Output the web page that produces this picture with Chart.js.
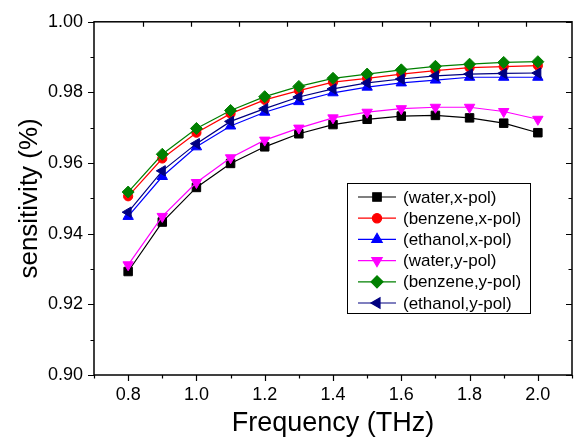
<!DOCTYPE html>
<html>
<head>
<meta charset="utf-8">
<script src="https://cdn.jsdelivr.net/npm/chart.js@4.4.0/dist/chart.umd.min.js"></script>
<style>
  html, body { margin: 0; padding: 0; background: #fff; }
  #wrap { width: 579px; height: 446px; }
</style>
</head>
<body>
<div id="wrap"><canvas id="sensChart" width="579" height="446"></canvas></div>
<script>
// データ
const freq = [0.8, 0.9, 1.0, 1.1, 1.2, 1.3, 1.4, 1.5, 1.6, 1.7, 1.8, 1.9, 2.0];
const waterX    = [0.9293, 0.9433, 0.9531, 0.9599, 0.9646, 0.9683, 0.9709, 0.9724, 0.9733, 0.9735, 0.9728, 0.9713, 0.9686];
const benzeneX  = [0.9506, 0.9613, 0.9686, 0.9740, 0.9779, 0.9805, 0.9829, 0.9840, 0.9852, 0.9862, 0.9870, 0.9873, 0.9876];
const ethanolX  = [0.9449, 0.9562, 0.9646, 0.9705, 0.9744, 0.9774, 0.9799, 0.9815, 0.9827, 0.9835, 0.9843, 0.9843, 0.9843];
const waterY    = [0.9312, 0.9449, 0.9545, 0.9615, 0.9665, 0.9699, 0.9728, 0.9744, 0.9754, 0.9758, 0.9758, 0.9746, 0.9724];
const benzeneY  = [0.9518, 0.9625, 0.9698, 0.9749, 0.9788, 0.9817, 0.9840, 0.9852, 0.9864, 0.9874, 0.9880, 0.9885, 0.9887];
const ethanolY  = [0.9461, 0.9578, 0.9655, 0.9718, 0.9754, 0.9787, 0.9810, 0.9827, 0.9838, 0.9847, 0.9852, 0.9854, 0.9855];

const seriesLabels = ['(water,x-pol)', '(benzene,x-pol)', '(ethanol,x-pol)', '(water,y-pol)', '(benzene,y-pol)', '(ethanol,y-pol)'];
const xTicks = [0.8, 1.0, 1.2, 1.4, 1.6, 1.8, 2.0];
const yTicks = [0.90, 0.92, 0.94, 0.96, 0.98, 1.00];

const FONT = 'Arial, "Liberation Sans", Helvetica, sans-serif';

function series(label, ys, color, style, radius, rotation) {
  return {
    label: label,
    data: freq.map((f, i) => ({ x: f, y: ys[i] })),
    borderColor: color,
    backgroundColor: color,
    borderWidth: 1.2,
    pointStyle: style,
    pointRadius: radius,
    pointRotation: rotation || 0,
    pointBorderWidth: 1,
    tension: 0
  };
}

const datasets = [
  series(seriesLabels[0], waterX,   '#000000', 'rect', 6),
  series(seriesLabels[1], benzeneX, '#ff0000', 'circle', 4.6),
  series(seriesLabels[2], ethanolX, '#0000ff', 'triangle', 6),
  series(seriesLabels[3], waterY,   '#ff00ff', 'triangle', 6, 180),
  series(seriesLabels[4], benzeneY, '#008000', 'rectRot', 6),
  series(seriesLabels[5], ethanolY, '#000080', 'triangle', 6, 270)
];
// 後のデータセットを上に描く
datasets.forEach((d, i) => { d.order = datasets.length - i; });

// 枠・目盛り・凡例
const framePlugin = {
  id: 'frame',
  afterDraw(chart) {
    const ctx = chart.ctx;
    const a = chart.chartArea;
    const xs = chart.scales.x, ys = chart.scales.y;
    ctx.save();
    ctx.strokeStyle = '#000';
    ctx.lineWidth = 1.5;
    ctx.strokeRect(a.left, a.top, a.right - a.left, a.bottom - a.top);

    ctx.lineWidth = 1.2;
    ctx.beginPath();
    for (let k = 7; k <= 21; k++) {
      const px = Math.round(xs.getPixelForValue(k / 10)) + 0.5;
      const len = k % 2 === 0 ? 6 : 3.5;
      ctx.moveTo(px, a.bottom); ctx.lineTo(px, a.bottom + len);
    }
    // 上側の目盛り (元図では間隔が異なる)
    for (let v = 0.843; v < 2.1; v += 0.1403) {
      const px = Math.round(xs.getPixelForValue(v)) + 0.5;
      ctx.moveTo(px, a.top); ctx.lineTo(px, a.top + 5);
    }
    for (let k = 90; k <= 100; k++) {
      const py = Math.round(ys.getPixelForValue(k / 100)) + 0.5;
      const len = k % 2 === 0 ? 6 : 3.5;
      ctx.moveTo(a.left, py); ctx.lineTo(a.left - len, py);
      ctx.moveTo(a.right, py); ctx.lineTo(a.right - len, py);
    }
    ctx.stroke();

    // 凡例
    const box = { left: 347, top: 183, width: 183, height: 130 };
    ctx.fillStyle = '#fff';
    ctx.fillRect(box.left, box.top, box.width, box.height);
    ctx.lineWidth = 1;
    ctx.strokeStyle = '#000';
    ctx.strokeRect(box.left + 0.5, box.top + 0.5, box.width, box.height);
    ctx.font = '17px ' + FONT;
    ctx.textBaseline = 'middle';
    chart.data.datasets.forEach((d, i) => {
      const y = box.top + 14 + i * 21.2;
      ctx.strokeStyle = d.borderColor;
      ctx.lineWidth = 1.2;
      ctx.beginPath();
      ctx.moveTo(358, y); ctx.lineTo(396, y);
      ctx.stroke();
      ctx.fillStyle = d.backgroundColor;
      Chart.helpers.drawPoint(ctx, {
        pointStyle: d.pointStyle, radius: d.pointRadius, rotation: d.pointRotation, borderWidth: 1
      }, 377, y);
      ctx.fillStyle = '#000';
      ctx.fillText(d.label, 403, y + 1);
    });
    ctx.restore();
  }
};

const ctx = document.getElementById('sensChart').getContext('2d');
const sensChart = new Chart(ctx, {
  type: 'line',
  data: { datasets: datasets },
  options: {
    responsive: false,
    animation: false,
    layout: { padding: { top: 19, right: 1, left: 0, bottom: 0 } },
    plugins: { legend: { display: false }, tooltip: { enabled: false } },
    scales: {
      x: {
        type: 'linear',
        min: 0.7,
        max: 2.1,
        afterFit: s => { s.height = 71; },
        afterBuildTicks: s => { s.ticks = xTicks.map(v => ({ value: v })); },
        grid: { display: false, drawTicks: false },
        border: { display: false },
        ticks: {
          padding: 9,
          color: '#000',
          font: { family: FONT, size: 18 },
          callback: v => v.toFixed(1)
        },
        title: {
          display: true,
          text: 'Frequency (THz)',
          color: '#000',
          font: { family: FONT, size: 27 },
          padding: { top: 0, bottom: 6 }
        }
      },
      y: {
        type: 'linear',
        min: 0.90,
        max: 1.00,
        afterFit: s => { s.width = 94; },
        afterBuildTicks: s => { s.ticks = yTicks.map(v => ({ value: v })); },
        grid: { display: false, drawTicks: false },
        border: { display: false },
        ticks: {
          padding: 11,
          color: '#000',
          font: { family: FONT, size: 18 },
          callback: v => v.toFixed(2)
        },
        title: {
          display: true,
          text: 'sensitivity (%)',
          color: '#000',
          font: { family: FONT, size: 26 },
          padding: { top: 14, bottom: 0 }
        }
      }
    }
  },
  plugins: [framePlugin]
});
</script>
</body>
</html>
